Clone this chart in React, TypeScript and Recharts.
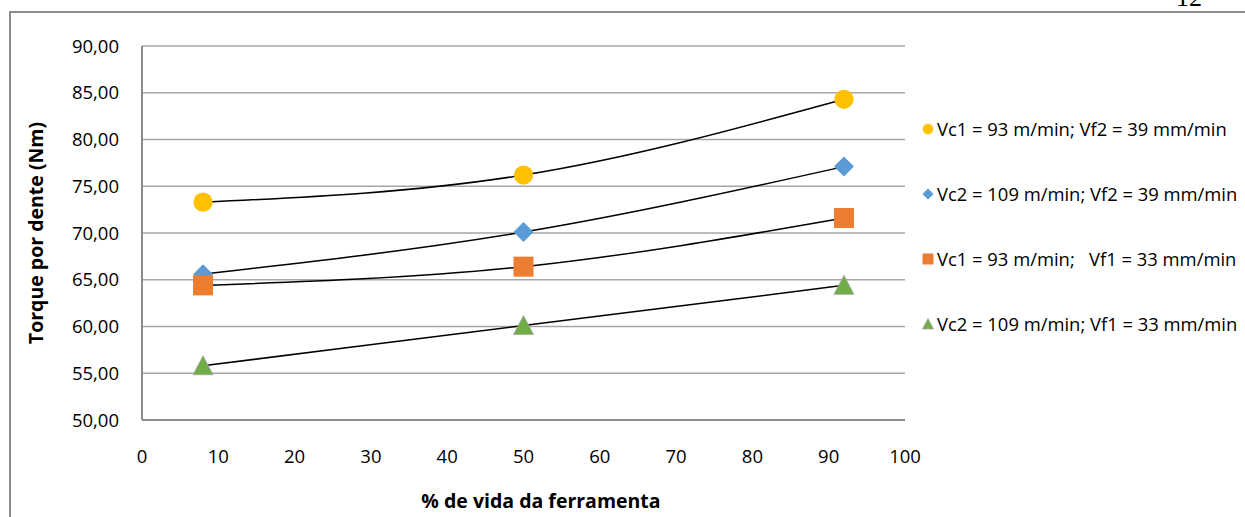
import React from 'react';
import { LineChart, Line, XAxis, YAxis, CartesianGrid, Label } from 'recharts';

const xValues = [8, 50, 92];
const vc1Vf2 = [73.3, 76.2, 84.3];
const vc2Vf2 = [65.6, 70.1, 77.1];
const vc1Vf1 = [64.4, 66.4, 71.6];
const vc2Vf1 = [55.8, 60.1, 64.4];
const seriesNames = [
  'Vc1 = 93 m/min; Vf2 = 39 mm/min',
  'Vc2 = 109 m/min; Vf2 = 39 mm/min',
  'Vc1 = 93 m/min;   Vf1 = 33 mm/min',
  'Vc2 = 109 m/min; Vf1 = 33 mm/min',
];
const seriesColors = ['#FFC000', '#5B9BD5', '#ED7D31', '#70AD47'];
const seriesShapes = ['circle', 'diamond', 'square', 'triangle'];
const xTicks = [0, 10, 20, 30, 40, 50, 60, 70, 80, 90, 100];
const yTicks = [50, 55, 60, 65, 70, 75, 80, 85, 90];
const xTitle = '% de vida da ferramenta';
const yTitle = 'Torque por dente (Nm)';

const seriesValues = [vc1Vf2, vc2Vf2, vc1Vf1, vc2Vf1];
const data = xValues.map((x, i) => {
  const row: Record<string, number> = { x };
  seriesValues.forEach((vals, k) => {
    row['s' + k] = vals[i];
  });
  return row;
});

const FONT = '"Open Sans", "Liberation Sans", sans-serif';

function marker(shape: string, color: string, cx: number, cy: number, s: number, key?: string) {
  if (shape === 'circle') return <circle key={key} cx={cx} cy={cy} r={s * 0.48} fill={color} />;
  if (shape === 'diamond')
    return (
      <polygon key={key} points={`${cx},${cy - s / 2} ${cx + s / 2},${cy} ${cx},${cy + s / 2} ${cx - s / 2},${cy}`} fill={color} />
    );
  if (shape === 'square')
    return <rect key={key} x={cx - s / 2} y={cy - s / 2} width={s} height={s} fill={color} />;
  return (
    <polygon
      key={key}
      points={`${cx},${cy - s / 2} ${cx + s / 2},${cy + s * 0.45} ${cx - s / 2},${cy + s * 0.45}`}
      fill={color}
      stroke="#a5a5a5"
      strokeWidth={0.8}
    />
  );
}

const fmt = (v: number) => v.toFixed(2).replace('.', ',');

const LegendBox = () => (
  <div style={{ position: 'absolute', left: 920, top: 96, fontFamily: FONT, fontSize: 18.4, color: '#000' }}>
    {seriesNames.map((n, i) => (
      <div key={n} style={{ height: 65, display: 'flex', alignItems: 'center', whiteSpace: 'pre' }}>
        <svg width={16} height={14} style={{ marginRight: 1 }}>
          {marker(seriesShapes[i], seriesColors[i], 8, 7, 11)}
        </svg>
        <span>{n}</span>
      </div>
    ))}
  </div>
);

export default function App() {
  return (
    <div style={{ position: 'absolute', left: 0, top: 0, width: 1245, height: 517, overflow: 'hidden', background: '#fff' }}>
      <div
        style={{
          position: 'absolute',
          left: 1176,
          top: -17,
          fontFamily: '"Liberation Serif", serif',
          fontSize: 26,
          color: '#000',
        }}
      >
        12
      </div>
      <div
        style={{
          position: 'absolute',
          left: 9,
          top: 11,
          width: 1400,
          height: 700,
          border: '2px solid #8c8c8c',
        }}
      />
      <div style={{ position: 'absolute', left: 0, top: 0 }}>
        <LineChart width={1245} height={517} data={data} margin={{ top: 46, right: 340, left: 0, bottom: 57 }}>
          <CartesianGrid vertical={false} stroke="#a6a6a6" strokeWidth={1.3} />
          <XAxis
            dataKey="x"
            type="number"
            domain={[0, 100]}
            ticks={xTicks}
            interval={0}
            height={40}
            tickSize={0}
            tickMargin={30}
            axisLine={{ stroke: '#8c8c8c', strokeWidth: 2 }}
            tick={{ fill: '#000', fontSize: 18.5, fontFamily: FONT }}
          >
            <Label
              content={() => (
                <text
                  x={541}
                  y={508}
                  textAnchor="middle"
                  fontFamily={FONT}
                  fontWeight="bold"
                  fontSize={19.5}
                  fill="#000"
                >
                  {xTitle}
                </text>
              )}
            />
          </XAxis>
          <YAxis
            type="number"
            domain={[50, 90]}
            ticks={yTicks}
            interval={0}
            width={142}
            tickSize={0}
            tickMargin={23}
            tickFormatter={fmt}
            axisLine={{ stroke: '#8c8c8c', strokeWidth: 2 }}
            tick={{ fill: '#000', fontSize: 18.5, fontFamily: FONT }}
          >
            <Label
              content={(p: any) => {
                const cx = 35;
                const cy = p.viewBox.y + p.viewBox.height / 2;
                return (
                  <text
                    x={cx}
                    y={cy}
                    transform={`rotate(-90 ${cx} ${cy})`}
                    textAnchor="middle"
                    dominantBaseline="central"
                    fontFamily={FONT}
                    fontWeight="bold"
                    fontSize={19.5}
                    fill="#000"
                  >
                    {yTitle}
                  </text>
                );
              }}
            />
          </YAxis>
          {seriesNames.map((n, k) => (
            <Line
              key={'m' + k}
              dataKey={'s' + k}
              name={n}
              stroke="none"
              isAnimationActive={false}
              activeDot={false}
              dot={(p: any) => marker(seriesShapes[k], seriesColors[k], p.cx, p.cy, 20, `d${k}-${p.index}`)}
            />
          ))}
          {seriesNames.map((n, k) => (
            <Line
              key={'t' + k}
              dataKey={'s' + k}
              name={n + ' trend'}
              type="monotone"
              stroke="#000"
              strokeWidth={1.5}
              dot={false}
              activeDot={false}
              legendType="none"
              isAnimationActive={false}
            />
          ))}
        </LineChart>
      </div>
      <LegendBox />
    </div>
  );
}
